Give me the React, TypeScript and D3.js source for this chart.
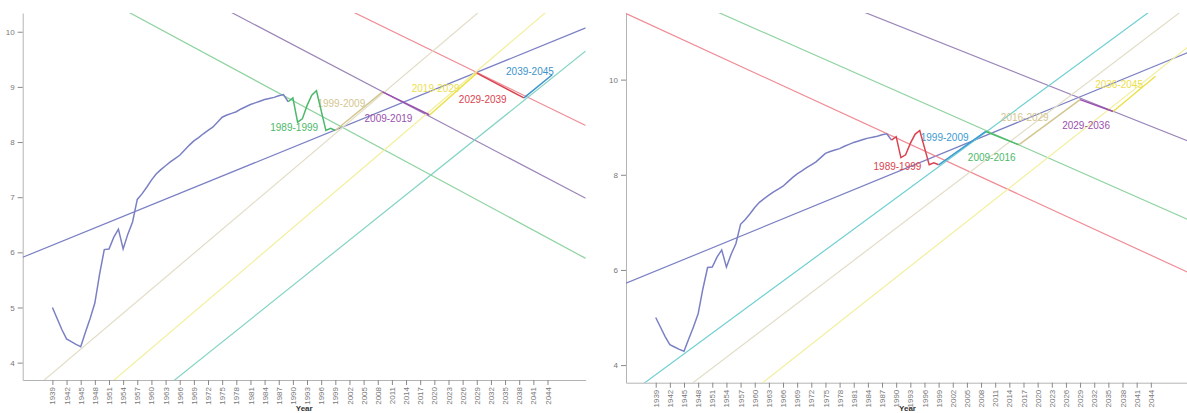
import React, { useEffect, useRef } from "react";
import * as d3 from "d3";

// observed series, 1939-1999
const observedYears = d3.range(1939, 2000);
const observedValues = [
  5.0, 4.8, 4.6, 4.43, 4.38, 4.33, 4.29, 4.55, 4.8, 5.08,
  5.6, 6.05, 6.06, 6.27, 6.42, 6.06, 6.33, 6.55, 6.96, 7.06,
  7.18, 7.31, 7.42, 7.5, 7.57, 7.64, 7.7, 7.76, 7.85, 7.94,
  8.02, 8.08, 8.15, 8.21, 8.27, 8.36, 8.45, 8.49, 8.52, 8.55,
  8.6, 8.64, 8.68, 8.71, 8.74, 8.77, 8.79, 8.81, 8.84, 8.86,
  8.73, 8.8, 8.36, 8.42, 8.66, 8.85, 8.93, 8.57, 8.21, 8.25,
  8.21,
];

const xTicks = d3.range(1939, 2045, 3);
const xDomain = [1932.7, 2052.1];
const baseColor = "#7b80c4";

// left chart
const leftBreaks = [1989, 1999, 2009, 2019, 2029, 2039, 2045];
const leftForecastYears = [2009, 2019, 2029, 2039, 2045];
const leftForecastValues = [8.91, 8.49, 9.25, 8.8, 9.22];
const leftSegmentColors = ["#4cb96a", "#d3c690", "#9a4fae", "#ede04c", "#d9434f", "#3d93c9"];
const leftGuideFrom = [
  [1932.7, 5.91], [1955.7, 10.33], [1977.2, 10.34], [2003.2, 10.34],
  [1937.9, 3.73], [1952.7, 3.73], [1965.0, 3.69],
];
const leftGuideTo = [
  [2052.1, 10.07], [2052.1, 5.89], [2052.1, 6.98], [2052.1, 8.3],
  [2029.2, 10.34], [2043.9, 10.37], [2052.1, 9.65],
];
const leftGuideColors = ["#7b80c4", "#8fd3a0", "#9b86b8", "#f08c96", "#e2ddc6", "#f3ef9c", "#84d4c4"];
const leftYTicks = [4, 5, 6, 7, 8, 9, 10];

// right chart
const rightBreaks = [1989, 1999, 2009, 2016, 2029, 2036, 2045];
const rightForecastYears = [2009, 2016, 2029, 2036, 2045];
const rightForecastValues = [8.91, 8.63, 9.58, 9.33, 10.07];
const rightSegmentColors = ["#d9434f", "#3d9ad2", "#4cb96a", "#d3c690", "#9a4fae", "#ede04c"];
const rightGuideFrom = [
  [1932.7, 5.72], [1932.7, 11.39], [1952.8, 11.39], [1983.4, 11.41],
  [1936.7, 3.63], [1946.9, 3.63], [1961.7, 3.63],
];
const rightGuideTo = [
  [2052.1, 10.58], [2052.1, 5.94], [2052.1, 7.05], [2052.1, 8.7],
  [2029.9, 10.42], [2037.0, 10.42], [2044.0, 10.07],
];
const rightGuideColors = ["#7b80c4", "#f08c96", "#8fd3a0", "#9b86b8", "#70cfd2", "#e2ddc6", "#f3ef9c"];
const rightYTicks = [4, 6, 8, 10];

type PanelProps = {
  id: string;
  x0: number;
  top: number;
  bottom: number;
  yDomain: [number, number];
  yTicks: number[];
  breaks: number[];
  forecastYears: number[];
  forecastValues: number[];
  segmentColors: string[];
  guideFrom: number[][];
  guideTo: number[][];
  guideColors: string[];
};

const Panel = (p: PanelProps) => {
  const gRef = useRef<SVGGElement>(null);

  useEffect(() => {
    const g = d3.select(gRef.current);
    g.selectAll("*").remove();

    const width = 563;
    const x = d3.scaleLinear().domain(xDomain).range([p.x0, p.x0 + width]);
    const y = d3.scaleLinear().domain(p.yDomain).range([p.bottom, p.top]);

    const clipId = `clip-${p.id}`;
    g.append("clipPath").attr("id", clipId)
      .append("rect")
      .attr("x", p.x0).attr("y", p.top)
      .attr("width", width).attr("height", p.bottom - p.top);

    // axes
    const xAxis = g.append("g")
      .attr("transform", `translate(0,${p.bottom})`)
      .call(d3.axisBottom(x).tickValues(xTicks).tickFormat(d3.format("d")).tickSize(5).tickSizeOuter(0));
    xAxis.selectAll("text")
      .attr("transform", "rotate(-90)")
      .attr("text-anchor", "end")
      .attr("x", -7).attr("y", 0).attr("dy", "0.32em");

    g.append("g")
      .attr("transform", `translate(${p.x0},0)`)
      .call(d3.axisLeft(y).tickValues(p.yTicks).tickFormat(d3.format("d")).tickSize(5).tickSizeOuter(0));

    g.selectAll(".domain").attr("stroke", "#b4b4b4");
    g.selectAll(".tick line").attr("stroke", "#888");
    g.selectAll(".tick text").attr("fill", "#777").attr("font-size", 8)
      .attr("font-family", "Liberation Sans, Arial, sans-serif");

    g.append("text")
      .attr("x", p.x0 + width / 2).attr("y", 411)
      .attr("text-anchor", "middle")
      .attr("font-size", 8).attr("font-weight", "bold")
      .attr("font-family", "Liberation Sans, Arial, sans-serif")
      .attr("fill", "#333")
      .text("Year");

    const plot = g.append("g").attr("clip-path", `url(#${clipId})`);

    // guide lines, extended over the whole plot
    p.guideFrom.forEach((a, i) => {
      const b = p.guideTo[i];
      const slope = (b[1] - a[1]) / (b[0] - a[0]);
      const at = (yr: number) => a[1] + slope * (yr - a[0]);
      plot.append("line")
        .attr("x1", x(xDomain[0])).attr("y1", y(at(xDomain[0])))
        .attr("x2", x(xDomain[1])).attr("y2", y(at(xDomain[1])))
        .attr("stroke", p.guideColors[i])
        .attr("stroke-width", 1.2);
    });

    const years = observedYears.concat(p.forecastYears);
    const values = observedValues.concat(p.forecastValues);
    const pts = years.map((yr, i) => [yr, values[i]] as [number, number]);
    const valueAt = (yr: number) => pts.find((d) => d[0] === yr)![1];

    const line = d3.line<[number, number]>().x((d) => x(d[0])).y((d) => y(d[1]));

    // labels
    p.breaks.slice(0, -1).forEach((start, i) => {
      const end = p.breaks[i + 1];
      const v0 = valueAt(start);
      const up = valueAt(end) > v0;
      plot.append("text")
        .attr("x", x(start) + 6)
        .attr("y", y(v0) + (up ? -26 : 27))
        .attr("text-anchor", "middle")
        .attr("dominant-baseline", "middle")
        .attr("font-size", 10)
        .attr("font-family", "Liberation Sans, Arial, sans-serif")
        .attr("fill", p.segmentColors[i])
        .text(`${start}-${end}`);
    });

    // base curve
    plot.append("path")
      .datum(pts.filter((d) => d[0] <= p.breaks[0]))
      .attr("d", line)
      .attr("fill", "none")
      .attr("stroke", baseColor)
      .attr("stroke-width", 1.5);

    p.breaks.slice(0, -1).forEach((start, i) => {
      const end = p.breaks[i + 1];
      plot.append("path")
        .datum(pts.filter((d) => d[0] >= start && d[0] <= end))
        .attr("d", line)
        .attr("fill", "none")
        .attr("stroke", p.segmentColors[i])
        .attr("stroke-width", 1.5);
    });
  }, [p]);

  return <g ref={gRef} />;
};

export default function App() {
  return (
    <svg
      width={1187}
      height={413}
      style={{ position: "absolute", left: 0, top: 0, background: "#fff" }}
    >
      <Panel
        id="left"
        x0={22.7}
        top={13}
        bottom={380}
        yDomain={[3.685, 10.34]}
        yTicks={leftYTicks}
        breaks={leftBreaks}
        forecastYears={leftForecastYears}
        forecastValues={leftForecastValues}
        segmentColors={leftSegmentColors}
        guideFrom={leftGuideFrom}
        guideTo={leftGuideTo}
        guideColors={leftGuideColors}
      />
      <Panel
        id="right"
        x0={626}
        top={13}
        bottom={382.7}
        yDomain={[3.63, 11.4]}
        yTicks={rightYTicks}
        breaks={rightBreaks}
        forecastYears={rightForecastYears}
        forecastValues={rightForecastValues}
        segmentColors={rightSegmentColors}
        guideFrom={rightGuideFrom}
        guideTo={rightGuideTo}
        guideColors={rightGuideColors}
      />
    </svg>
  );
}
